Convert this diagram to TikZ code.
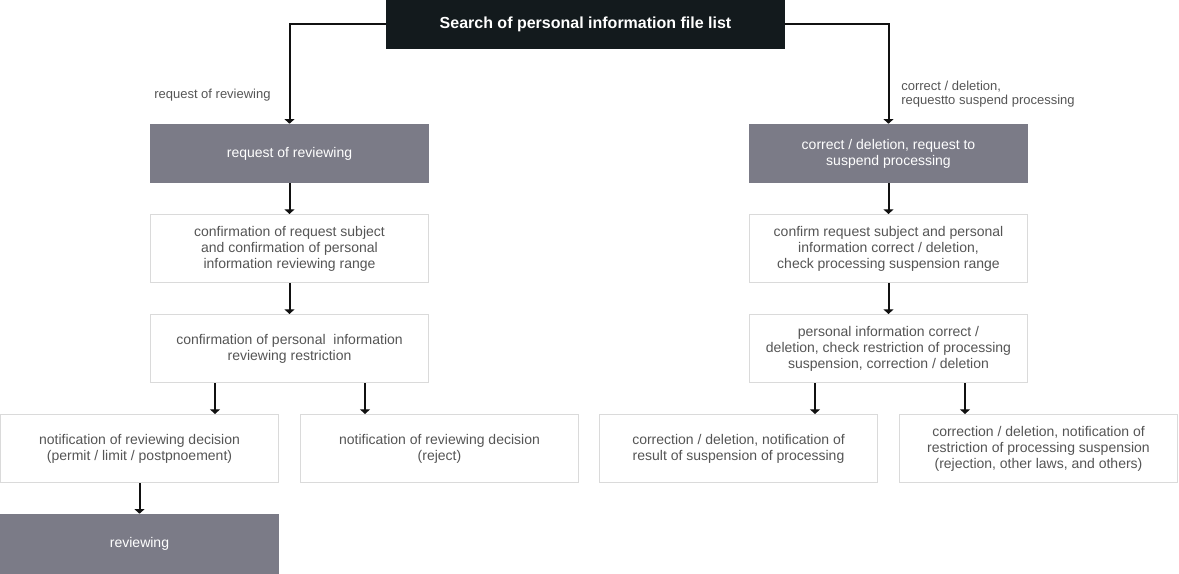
\documentclass[tikz,border=0pt]{standalone}
\usepackage{fontspec}
\setmainfont{Liberation Sans}
\usetikzlibrary{arrows.meta,calc}
\definecolor{topbg}{HTML}{131A1D}
\definecolor{graybox}{HTML}{7B7B87}
\definecolor{txt}{HTML}{555555}
\definecolor{bord}{HTML}{DADADA}
\definecolor{linec}{HTML}{111111}
\tikzset{
  topbox/.style={fill=topbg, text=white, minimum width=299.25pt, minimum height=36.75pt, inner sep=0pt, font=\fontsize{12pt}{14pt}\selectfont\bfseries},
  headbox/.style={fill=graybox, text=white, minimum width=209.25pt, minimum height=44.25pt, inner sep=0pt, align=center, font=\fontsize{10.5pt}{12pt}\selectfont},
  stepbox/.style={draw=bord, line width=0.75pt, fill=white, text=txt, minimum width=208.5pt, minimum height=51pt, inner sep=0pt, align=center, font=\fontsize{10.5pt}{12pt}\selectfont},
  lbl/.style={text=txt, inner sep=0pt, align=left, font=\fontsize{9.75pt}{10.5pt}\selectfont},
  arr/.style={draw=linec, line width=1.5pt, -{Triangle[width=7.5pt,length=3.5pt]}},
}
\begin{document}
\begin{tikzpicture}[x=0.75pt,y=-0.75pt]
\useasboundingbox (0,0) rectangle (1179,574);
\node[topbox] (top) at (585.5,24.5) {Search of personal information file list};
\node[headbox] (hl) at (289.5,153.5) {request of reviewing};
\node[headbox] (hr) at (888.5,153.5) {correct / deletion, request to\\suspend processing};
\node[stepbox] (l2) at (289.5,248.5) {confirmation of request subject\\and confirmation of personal\\information reviewing range};
\node[stepbox] (l3) at (289.5,348.5) {confirmation of personal\ \ information\\reviewing restriction};
\node[stepbox] (r2) at (888.5,248.5) {confirm request subject and personal\\information correct / deletion,\\check processing suspension range};
\node[stepbox] (r3) at (888.5,348.5) {personal information correct /\\deletion, check restriction of processing\\suspension, correction / deletion};
\node[stepbox] (b1) at (139.5,448.5) {notification of reviewing decision\\(permit / limit / postpnoement)};
\node[stepbox] (b2) at (439.5,448.5) {notification of reviewing decision\\(reject)};
\node[stepbox] (b3) at (738.5,448.5) {correction / deletion, notification of\\result of suspension of processing};
\node[stepbox] (b4) at (1038.5,448.5) {correction / deletion, notification of\\restriction of processing suspension\\(rejection, other laws, and others)};
\node[headbox, minimum height=45pt] (rv) at (139.5,544) {reviewing};
\node[lbl, anchor=west] (ll) at (154,95) {request of reviewing};
\node[lbl, anchor=west] (rl) at (901,94) {correct / deletion,\\requestto suspend processing};
% connectors
\draw[arr] (top.west) -| (hl.north);
\draw[arr] (top.east) -| (hr.north);
\draw[arr] (hl.south) -- (l2.north);
\draw[arr] (l2.south) -- (l3.north);
\draw[arr] (hr.south) -- (r2.north);
\draw[arr] (r2.south) -- (r3.north);
\draw[arr] ([xshift=-55.875pt]l3.south) -- ([xshift=-55.875pt]l3.south |- b1.north);
\draw[arr] ([xshift=56.625pt]l3.south) -- ([xshift=56.625pt]l3.south |- b2.north);
\draw[arr] ([xshift=-55.125pt]r3.south) -- ([xshift=-55.125pt]r3.south |- b3.north);
\draw[arr] ([xshift=57.375pt]r3.south) -- ([xshift=57.375pt]r3.south |- b4.north);
\draw[arr] (b1.south) -- (rv.north);
\end{tikzpicture}
\end{document}
